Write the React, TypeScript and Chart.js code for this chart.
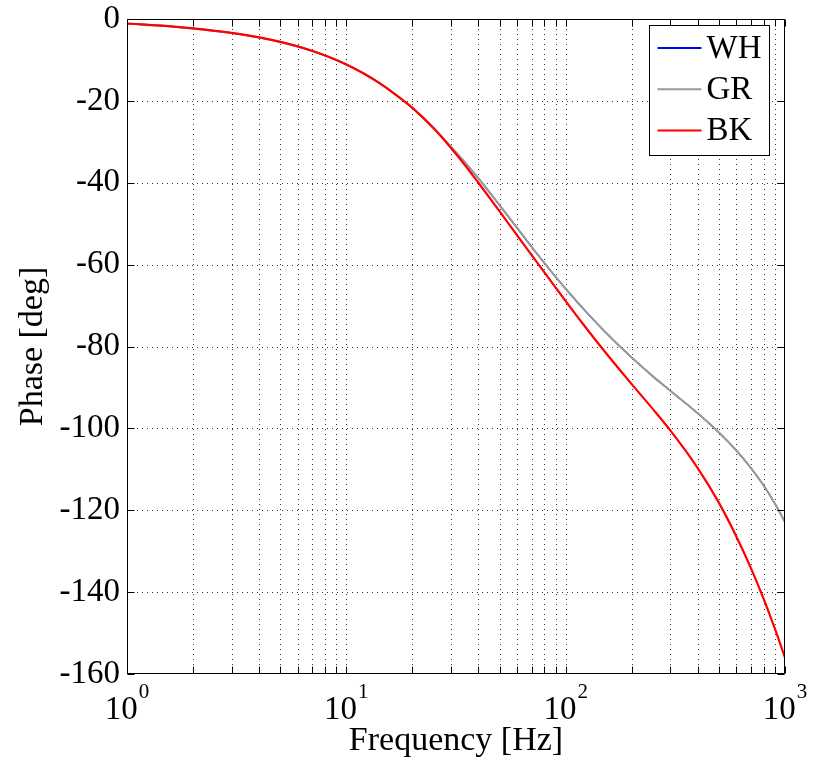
import React, { useEffect, useRef } from "react";
import { Chart, registerables } from "chart.js";

Chart.register(...registerables);

// ---- data ----
const frequencies = [1, 1.5, 2, 3, 4, 5, 6, 7, 8, 9, 10, 12, 14, 17, 20, 25, 30, 35, 40, 50, 60, 70, 80, 90, 100, 120, 150, 200, 250, 300, 400, 500, 600, 700, 800, 900, 1000];

const whPhase = [-1.1, -1.7, -2.3, -3.4, -4.5, -5.6, -6.7, -7.8, -8.9, -10.0, -11.1, -13.3, -15.5, -18.7, -21.7, -26.6, -31.2, -35.2, -38.9, -45.5, -51.0, -55.7, -59.6, -63.0, -65.9, -70.7, -76.2, -82.7, -87.3, -90.8, -96.3, -101.0, -105.4, -109.7, -114.0, -118.4, -122.9];

const grPhase = [-1.1, -1.7, -2.3, -3.4, -4.5, -5.6, -6.7, -7.8, -8.9, -10.0, -11.1, -13.3, -15.5, -18.7, -21.7, -26.6, -31.2, -35.2, -38.9, -45.5, -51.0, -55.7, -59.6, -63.0, -65.9, -70.7, -76.2, -82.7, -87.3, -90.8, -96.3, -101.0, -105.4, -109.7, -114.0, -118.4, -122.9];

const bkPhase = [-1.1, -1.7, -2.3, -3.4, -4.5, -5.6, -6.7, -7.8, -8.9, -10.0, -11.1, -13.3, -15.5, -18.7, -21.7, -26.7, -31.5, -35.9, -40.0, -47.0, -52.8, -57.7, -61.9, -65.6, -68.9, -74.5, -81.1, -89.2, -95.3, -100.5, -109.7, -118.2, -126.4, -134.2, -141.7, -149.0, -156.0];

const seriesLabels = ["WH", "GR", "BK"];
const seriesColors = ["#0000ff", "#9a9a9a", "#ff0000"];

const yTickValues = [-160, -140, -120, -100, -80, -60, -40, -20, 0];
const xGridTicks = [1, 2, 3, 4, 5, 6, 7, 8, 9, 10, 20, 30, 40, 50, 60, 70, 80, 90, 100, 200, 300, 400, 500, 600, 700, 800, 900, 1000];
const xDecades = [1, 10, 100, 1000];
const xDecadeExponents = ["0", "1", "2", "3"];

const FONT = "'Liberation Serif', 'Times New Roman', serif";

export default function App() {
  const ref = useRef<HTMLCanvasElement>(null);

  useEffect(() => {
    const canvas = ref.current;
    if (!canvas) return;

    const toPoints = (ys: number[]) => frequencies.map((f, i) => ({ x: f, y: ys[i] }));

    const matlabAxes = {
      id: "matlabAxes",
      beforeDatasetsDraw(chart: any) {
        const { ctx, chartArea: a, scales } = chart;
        const xs = scales.x;
        const ys = scales.y;
        ctx.save();
        ctx.strokeStyle = "rgba(0,0,0,0.8)";
        ctx.lineWidth = 1;
        ctx.setLineDash([1, 4]);
        const first = xGridTicks[0];
        const last = xGridTicks[xGridTicks.length - 1];
        for (const v of xGridTicks) {
          if (v === first || v === last) continue;
          const px = Math.round(xs.getPixelForValue(v)) + 0.5;
          ctx.beginPath();
          ctx.moveTo(px, a.top);
          ctx.lineTo(px, a.bottom);
          ctx.stroke();
        }
        for (const v of yTickValues) {
          if (v === yTickValues[0] || v === yTickValues[yTickValues.length - 1]) continue;
          const py = Math.round(ys.getPixelForValue(v)) + 0.5;
          ctx.beginPath();
          ctx.moveTo(a.left, py);
          ctx.lineTo(a.right, py);
          ctx.stroke();
        }
        ctx.restore();
      },
      afterDatasetsDraw(chart: any) {
        const { ctx, chartArea: a, scales } = chart;
        const xs = scales.x;
        const ys = scales.y;
        ctx.save();
        ctx.setLineDash([]);
        ctx.strokeStyle = "#000";
        ctx.lineWidth = 1;
        const L = Math.round(a.left) + 0.5;
        const R = Math.round(a.right) - 0.5;
        const T = Math.round(a.top) + 0.5;
        const B = Math.round(a.bottom) - 0.5;
        ctx.strokeRect(L, T, R - L, B - T);
        const tl = 7;
        ctx.beginPath();
        for (const v of yTickValues) {
          const py = Math.round(ys.getPixelForValue(v)) + 0.5;
          ctx.moveTo(L, py);
          ctx.lineTo(L + tl, py);
          ctx.moveTo(R, py);
          ctx.lineTo(R - tl, py);
        }
        for (const v of xGridTicks) {
          const px = Math.round(xs.getPixelForValue(v)) + 0.5;
          ctx.moveTo(px, B);
          ctx.lineTo(px, B - tl);
          ctx.moveTo(px, T);
          ctx.lineTo(px, T + tl);
        }
        ctx.stroke();

        // legend box
        const bw = 120;
        const bh = 130;
        const bx = Math.round(a.right) - 16 - bw + 0.5;
        const by = Math.round(a.top) + 6 + 0.5;
        ctx.fillStyle = "#fff";
        ctx.fillRect(bx, by, bw, bh);
        ctx.strokeStyle = "#000";
        ctx.strokeRect(bx, by, bw, bh);
        ctx.font = `33px ${FONT}`;
        ctx.textBaseline = "middle";
        ctx.textAlign = "left";
        chart.data.datasets.forEach((ds: any, i: number) => {
          const iy = by + 22.5 + i * 41.3;
          ctx.strokeStyle = ds.borderColor;
          ctx.lineWidth = 2;
          ctx.beginPath();
          ctx.moveTo(bx + 8, iy);
          ctx.lineTo(bx + 52, iy);
          ctx.stroke();
          ctx.fillStyle = "#000";
          ctx.fillText(ds.label, bx + 57, iy + 1);
        });

        // x decade labels 10^k
        ctx.fillStyle = "#000";
        ctx.textBaseline = "alphabetic";
        xDecades.forEach((v, i) => {
          const px = xs.getPixelForValue(v);
          ctx.font = `33px ${FONT}`;
          const w1 = ctx.measureText("10").width;
          ctx.font = `21px ${FONT}`;
          const w2 = ctx.measureText(xDecadeExponents[i]).width;
          const start = px - (w1 + w2 + 1) / 2;
          ctx.font = `33px ${FONT}`;
          ctx.fillText("10", start, a.bottom + 44.5);
          ctx.font = `21px ${FONT}`;
          ctx.fillText(xDecadeExponents[i], start + w1 + 1, a.bottom + 24);
        });
        ctx.restore();
      },
    };

    const seriesValues = [whPhase, grPhase, bkPhase];
    const drawOrder = [3, 2, 1];
    const widths = [1.4, 2, 2.2];

    const chart = new Chart(canvas, {
      type: "line",
      data: {
        datasets: seriesLabels.map((label, i) => ({
          label,
          data: toPoints(seriesValues[i]),
          borderColor: seriesColors[i],
          backgroundColor: seriesColors[i],
          borderWidth: widths[i],
          pointRadius: 0,
          fill: false,
          cubicInterpolationMode: "monotone",
          order: drawOrder[i],
        })),
      },
      options: {
        animation: false,
        responsive: false,
        layout: { padding: { top: 19, right: 32, left: 0, bottom: 0 } },
        plugins: {
          legend: { display: false },
          tooltip: { enabled: false },
        },
        scales: {
          x: {
            type: "logarithmic",
            min: 1,
            max: 1000,
            grid: { display: false, drawTicks: false },
            border: { display: false },
            ticks: { display: false },
            title: {
              display: true,
              text: "Frequency [Hz]",
              color: "#000",
              font: { family: FONT, size: 34 },
              padding: { top: 0, bottom: 0 },
            },
            afterFit: (s: any) => {
              s.height = 87;
              s.paddingLeft = 0;
              s.paddingRight = 0;
            },
          },
          y: {
            type: "linear",
            min: -160,
            max: 0,
            grid: { display: false, drawTicks: false },
            border: { display: false },
            ticks: {
              color: "#000",
              padding: 7,
              font: { family: FONT, size: 33 },
              callback: (v: any) => String(v),
            },
            afterBuildTicks: (s: any) => {
              s.ticks = yTickValues.map((v) => ({ value: v }));
            },
            title: {
              display: true,
              text: "Phase [deg]",
              color: "#000",
              font: { family: FONT, size: 34 },
              padding: { top: 13, bottom: 0 },
            },
            afterFit: (s: any) => {
              s.width = 127;
              s.paddingTop = 0;
              s.paddingBottom = 0;
            },
          },
        },
      },
      plugins: [matlabAxes],
    } as any);

    return () => chart.destroy();
  }, []);

  return (
    <canvas
      ref={ref}
      width={817}
      height={761}
      style={{ position: "absolute", left: 0, top: 0, display: "block" }}
    />
  );
}
